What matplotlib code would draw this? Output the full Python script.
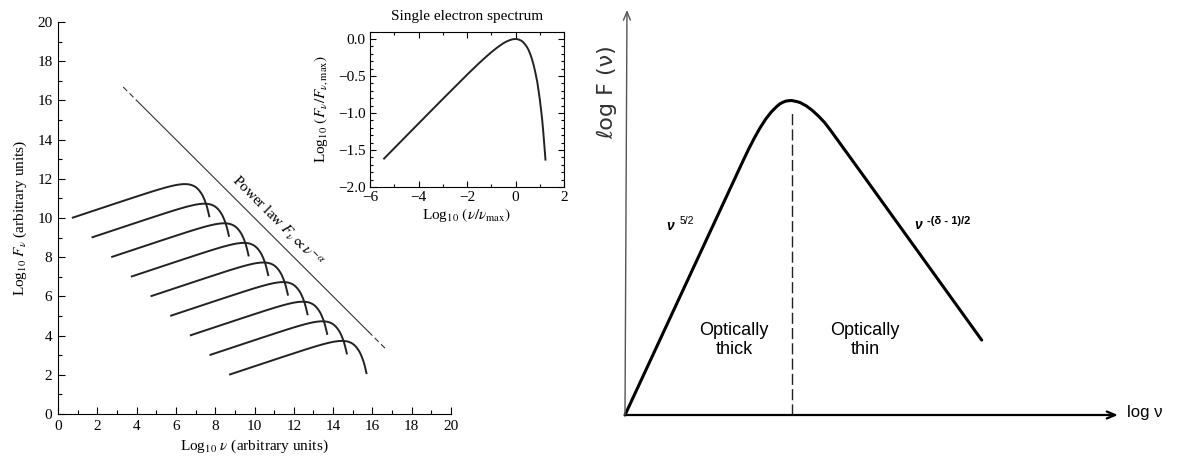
import matplotlib
matplotlib.use("Agg")
import matplotlib.pyplot as plt
import numpy as np
from matplotlib.ticker import MultipleLocator

# ---------------- data ----------------
# single-electron synchrotron spectrum shape, relative to its peak
shape_dlogx = [-5.75, -5.42, -5.0, -4.0, -3.0, -2.0, -1.75, -1.5, -1.25, -1.0, -0.75,
               -0.5, -0.375, -0.25, -0.125, 0.0, 0.075, 0.15, 0.225, 0.3, 0.375, 0.45,
               0.525, 0.6, 0.675, 0.75, 0.825, 0.9, 0.95, 1.0, 1.05, 1.1, 1.15, 1.2,
               1.235, 1.25]
shape_dlogF = [-1.726, -1.616, -1.476, -1.143, -0.811, -0.484, -0.404, -0.326, -0.251,
               -0.179, -0.114, -0.057, -0.035, -0.017, -0.004, 0.0, -0.002, -0.010,
               -0.020, -0.038, -0.064, -0.097, -0.139, -0.196, -0.267, -0.355, -0.462,
               -0.586, -0.696, -0.811, -0.946, -1.09, -1.276, -1.48, -1.63, -1.69]

# peaks of the nine shifted single-electron spectra in the main panel
peak_logx = [6.46, 7.46, 8.46, 9.46, 10.46, 11.46, 12.46, 13.46, 14.46]
peak_logF = [11.73, 10.73, 9.73, 8.73, 7.73, 6.73, 5.73, 4.73, 3.73]

# power-law envelope (dashed ends, solid middle)
powerlaw_logx = [3.32, 4.0, 15.8, 16.68]
powerlaw_logF = [16.68, 16.0, 4.2, 3.32]

main_ticks = [0, 2, 4, 6, 8, 10, 12, 14, 16, 18, 20]
inset_xticks = [-6, -4, -2, 0, 2]
inset_yticks = [-2.0, -1.5, -1.0, -0.5, 0.0]

# right panel: sketched self-absorbed synchrotron spectrum (arbitrary units)
sketch_logx = [0.0, 2.40, 2.51, 2.62, 2.735, 2.85, 2.965, 3.08, 3.14, 3.20, 3.26, 3.32,
               3.38, 3.44, 3.50, 3.56, 3.68, 3.80, 3.925, 4.05, 4.175, 4.30, 4.90, 7.235]
sketch_logF = [0.0, 6.29, 6.57, 6.83, 7.08, 7.30, 7.48, 7.62, 7.68, 7.72, 7.75, 7.76,
               7.765, 7.75, 7.735, 7.71, 7.63, 7.52, 7.38, 7.22, 7.02, 6.81, 5.80, 1.85]
turnover_logx = [3.39, 3.39]
turnover_logF = [0.0, 7.46]

# ---------------- figure ----------------
plt.rcParams['font.family'] = ['Liberation Serif', 'DejaVu Serif']
plt.rcParams['mathtext.fontset'] = 'stix'

W, H = 1178, 463
fig = plt.figure(figsize=(W / 100, H / 100), dpi=100)

# ---- main left panel ----
ax = fig.add_axes([58 / W, 1 - 414 / H, 393 / W, 392 / H])
for px, py in zip(peak_logx, peak_logF):
    ax.plot(np.add(shape_dlogx, px), np.add(shape_dlogF, py),
            color='#222222', lw=1.4, solid_capstyle='butt')
ax.plot(powerlaw_logx[1:3], powerlaw_logF[1:3], color='#333333', lw=0.8)
ax.plot(powerlaw_logx[0:2], powerlaw_logF[0:2], color='#333333', lw=0.8, dashes=(5, 3))
ax.plot(powerlaw_logx[2:4], powerlaw_logF[2:4], color='#333333', lw=0.8, dashes=(5, 3))
ax.text(11.17, 9.85, r"Power law $F_\nu \propto \nu^{-\alpha}$", rotation=-45,
        rotation_mode='anchor', ha='center', va='center', fontsize=11)

ax.set_xlim(0, 20)
ax.set_ylim(0, 20)
ax.set_xticks(main_ticks)
ax.set_yticks(main_ticks)
ax.xaxis.set_minor_locator(MultipleLocator(1))
ax.yaxis.set_minor_locator(MultipleLocator(1))
ax.tick_params(which='both', direction='in', top=False, right=False, width=0.8,
               labelsize=11, pad=4)
ax.tick_params(which='major', length=5)
ax.tick_params(which='minor', length=3)
for s in ('top', 'right'):
    ax.spines[s].set_visible(False)
for s in ('left', 'bottom'):
    ax.spines[s].set_linewidth(0.8)
ax.set_xlabel(r"Log$_{10}$ $\nu$ (arbitrary units)", fontsize=11, labelpad=4)
ax.set_ylabel(r"Log$_{10}$ $F_\nu$ (arbitrary units)", fontsize=11, labelpad=6)

# ---- inset ----
ax2 = fig.add_axes([370 / W, 1 - 187 / H, 194 / W, (187 - 31.6) / H])
ax2.plot(shape_dlogx[1:-1], shape_dlogF[1:-1], color='#222222', lw=1.4)
ax2.set_xlim(-6, 2)
ax2.set_ylim(-2.0, 0.1)
ax2.set_xticks(inset_xticks)
ax2.set_yticks(inset_yticks)
ax2.xaxis.set_minor_locator(MultipleLocator(1))
ax2.yaxis.set_minor_locator(MultipleLocator(0.1))
ax2.tick_params(which='both', direction='in', top=True, right=True, width=0.8,
                labelsize=11, pad=3)
ax2.tick_params(which='major', length=4.5)
ax2.tick_params(which='minor', length=2.2)
for s in ax2.spines.values():
    s.set_linewidth(0.8)
ax2.set_title("Single electron spectrum", fontsize=11, pad=8)
ax2.set_xlabel(r"Log$_{10}$ $(\nu/\nu_{\mathrm{max}})$", fontsize=11, labelpad=1)
ax2.set_ylabel(r"Log$_{10}$ $(F_\nu/F_{\nu,\mathrm{max}})$", fontsize=11, labelpad=6)

# ---- right panel (sketch) ----
ax3 = fig.add_axes([600 / W, 0, 578 / W, 1])
ax3.set_xlim((600 - 625) / 49.3, (1178 - 625) / 49.3)
ax3.set_ylim((415 - 463) / 40.5, 415 / 40.5)
ax3.axis('off')
sans = ['Liberation Sans', 'DejaVu Sans']

ax3.annotate('', xy=(10.0, 0), xytext=(0, 0),
             arrowprops=dict(arrowstyle='->,head_length=0.6,head_width=0.25',
                             lw=1.6, color='black', shrinkA=0, shrinkB=0))
ax3.annotate('', xy=(0.04, 10.0), xytext=(0, 0),
             arrowprops=dict(arrowstyle='->,head_length=0.6,head_width=0.25',
                             lw=1.0, color='#555555', shrinkA=0, shrinkB=0))
ax3.plot(sketch_logx, sketch_logF, color='black', lw=2.2, solid_joinstyle='round',
         solid_capstyle='round')
ax3.plot(turnover_logx, turnover_logF, color='#222222', lw=1.0, dashes=(8, 3))

ax3.text(-0.365, 7.98, "ℓog F (ν)", rotation=90, ha='center', va='center',
         fontsize=16, family=['DejaVu Sans'], color='#333333')
ax3.text(10.18, 0.05, "log ν", ha='left', va='center', fontsize=12, family=sans)
ax3.text(0.91, 4.67, "ν", ha='center', va='center', fontsize=10, family=sans,
         fontweight='bold', style='italic')
ax3.text(1.10, 4.78, "5/2", ha='left', va='center', fontsize=7.5, family=sans)
ax3.text(5.94, 4.69, "ν", ha='center', va='center', fontsize=10, family=sans,
         fontweight='bold', style='italic')
ax3.text(6.13, 4.79, "-(δ - 1)/2", ha='left', va='center', fontsize=8, family=sans,
         fontweight='bold')
ax3.text(2.21, 1.85, "Optically\nthick", ha='center', va='center', fontsize=13,
         family=sans, linespacing=1.1)
ax3.text(4.87, 1.85, "Optically\nthin", ha='center', va='center', fontsize=13,
         family=sans, linespacing=1.1)

fig.savefig("out.png", dpi=100)
